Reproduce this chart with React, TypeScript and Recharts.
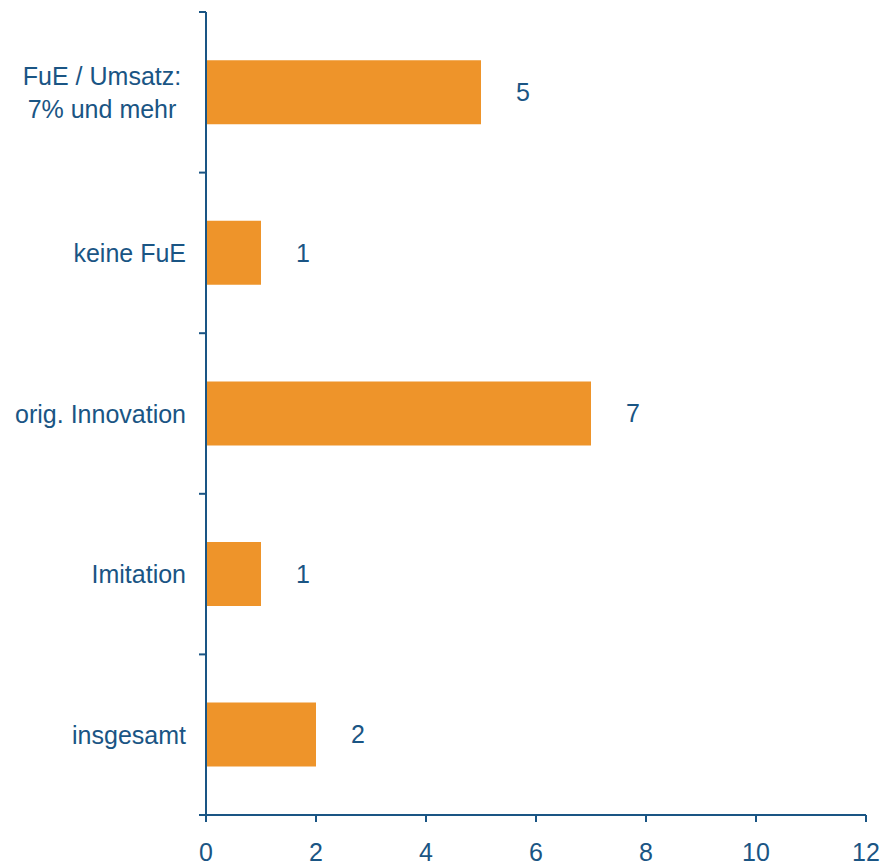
import { BarChart, Bar, XAxis, YAxis, LabelList } from "recharts";

const categories = [
  "FuE / Umsatz:\n7% und mehr",
  "keine FuE",
  "orig. Innovation",
  "Imitation",
  "insgesamt",
];
const values = [5, 1, 7, 1, 2];
const xTicks = [0, 2, 4, 6, 8, 10, 12];

const data = categories.map((name, i) => ({ name, value: values[i] }));

const BLUE = "#1A5584";
const ORANGE = "#EE942A";
const FONT = "'Liberation Sans', Arial, sans-serif";
const FS = 25;

const TOP = 12;
const PLOT_H = 803;
const HALF_BAND = PLOT_H / categories.length / 2;

function YTick(props: any) {
  const { x, y, payload, index } = props;
  const axisX = x + 20;
  const lines = String(payload.value).split("\n");
  const lineH = 33;
  const multi = lines.length > 1;
  const tx = multi ? x - 84 : x;
  const isLast = index === categories.length - 1;
  return (
    <g>
      <line x1={axisX - 7} x2={axisX} y1={y - HALF_BAND} y2={y - HALF_BAND} stroke={BLUE} strokeWidth={2} />
      {isLast && (
        <line x1={axisX - 7} x2={axisX} y1={y + HALF_BAND} y2={y + HALF_BAND} stroke={BLUE} strokeWidth={2} />
      )}
      <text
        x={tx}
        y={y}
        textAnchor={multi ? "middle" : "end"}
        fill={BLUE}
        fontSize={FS}
        fontFamily={FONT}
      >
        {lines.map((l, i) => (
          <tspan key={i} x={tx} dy={i === 0 ? 9 - ((lines.length - 1) * lineH) / 2 : lineH}>
            {l}
          </tspan>
        ))}
      </text>
    </g>
  );
}

export default function App() {
  return (
    <div style={{ position: "absolute", left: 0, top: 0, background: "#fff" }}>
      <BarChart
        width={887}
        height={865}
        data={data}
        layout="vertical"
        margin={{ top: TOP, right: 21, bottom: 0, left: 0 }}
        barCategoryGap="30%"
      >
        <XAxis
          type="number"
          domain={[0, 12]}
          ticks={xTicks}
          interval={0}
          height={50}
          axisLine={{ stroke: BLUE, strokeWidth: 2 }}
          tickLine={{ stroke: BLUE, strokeWidth: 2 }}
          tickSize={7}
          tickMargin={21}
          tick={{ fill: BLUE, fontSize: FS, fontFamily: FONT }}
        />
        <YAxis
          type="category"
          dataKey="name"
          width={206}
          interval={0}
          axisLine={{ stroke: BLUE, strokeWidth: 2 }}
          tickLine={false}
          tickSize={6}
          tickMargin={14}
          tick={<YTick />}
        />
        <Bar dataKey="value" fill={ORANGE} isAnimationActive={false}>
          <LabelList
            dataKey="value"
            position="right"
            offset={35}
            fill={BLUE}
            fontSize={FS}
            fontFamily={FONT}
          />
        </Bar>
      </BarChart>
    </div>
  );
}
